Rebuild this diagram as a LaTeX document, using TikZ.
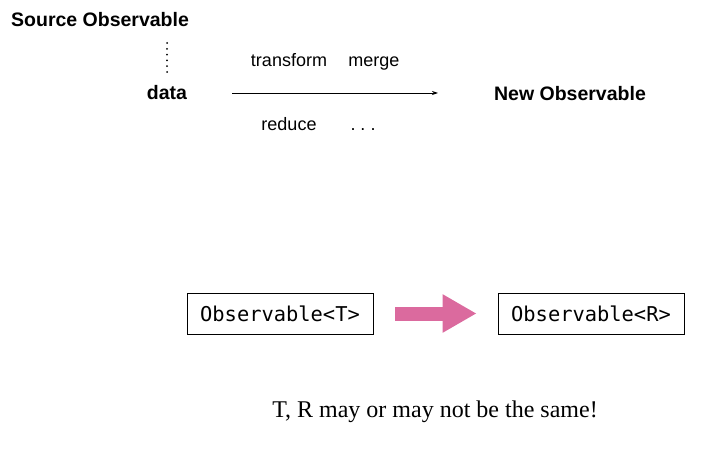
\documentclass[tikz,border=0pt]{standalone}
\usepackage{fontspec}
\setmainfont{Liberation Sans}
\newfontfamily\monofont{DejaVu Sans Mono}
\newfontfamily\seriffont{Liberation Serif}
\usetikzlibrary{arrows.meta}
\definecolor{pinkarrow}{HTML}{DB6A9E}
\tikzset{
  title/.style={font=\fontsize{19.5}{22}\selectfont\bfseries, inner sep=0pt, anchor=base},
  op/.style={font=\fontsize{18}{20}\selectfont, inner sep=0pt, anchor=base},
  obsbox/.style={draw, line width=0.8pt, minimum width=186pt, minimum height=41pt, inner sep=0pt, font=\monofont\fontsize{20.4}{24}\selectfont},
}
\begin{document}
\begin{tikzpicture}[x=1pt,y=-1pt]
\useasboundingbox (0,0) rectangle (720,468);
\node[title, anchor=base west] (src) at (11,27) {Source Observable};
\node[title] (data) at (167,100) {data};
\coordinate (dtop) at (167,43);
\draw[line width=2pt, line cap=round, dash pattern=on 0pt off 5.8pt] (dtop) -- (data.north |- 0,72);
\coordinate (a0) at (232,93);
\coordinate (a1) at (438,93);
\draw[line width=0.8pt, -{Stealth[length=6pt,width=4pt]}] (a0) -- (a1);
\node[op] (tr) at (289,67) {transform};
\node[op] (mg) at (374,67) {merge};
\node[op] (rd) at (289,131) {reduce};
\node[op] (dots) at (363,131) {.\hspace{5pt}.\hspace{5pt}.};
\node[title] (new) at (570,100.5) {New Observable};
\node[obsbox] (b1) at (280,313.5) {Observable<T>};
\node[obsbox] (b2) at (591,313.5) {Observable<R>};
\draw[pinkarrow, line width=14pt, -{Triangle[length=34pt,width=36pt]}, shorten <=22pt, shorten >=21pt] (b1.east) -- (b2.west);
\node[inner sep=0pt, anchor=base, font=\seriffont\fontsize{24}{28}\selectfont] (note) at (435,417) {T, R may or may not be the same!};
\end{tikzpicture}
\end{document}
